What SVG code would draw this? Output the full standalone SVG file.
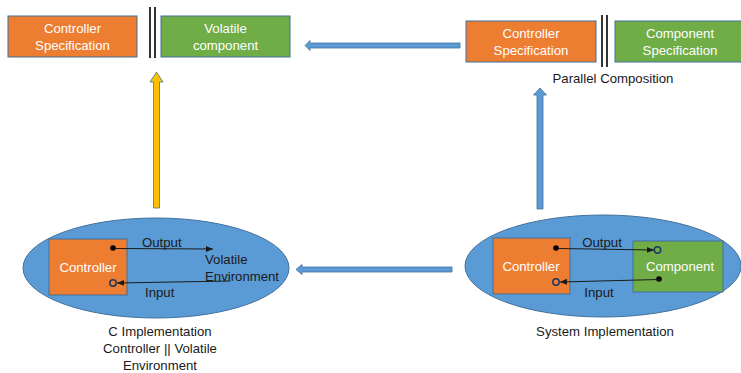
<svg xmlns="http://www.w3.org/2000/svg" width="741" height="373" viewBox="0 0 741 373">
<defs>
<style>
.t{font-family:"Liberation Sans",Arial,sans-serif;font-size:13.2px;}
.w{fill:#ffffff;}
.k{fill:#1a1a1a;}
.or{fill:#ED7D31;stroke:#41719C;stroke-width:1;}
.gr{fill:#70AD47;stroke:#41719C;stroke-width:1;}
.el{fill:#5B9BD5;stroke:#41719C;stroke-width:1;}
.bar{stroke:#000;stroke-width:1.6;}
.ar{fill:#5B9BD5;stroke:#41719C;stroke-width:0.8;}
.ay{fill:#FFC000;stroke:#41719C;stroke-width:0.8;}
.ln{stroke:#1a1a1a;stroke-width:1;fill:none;}
.dot{fill:#000;}
.ring{fill:none;stroke:#1F3864;stroke-width:1.5;}
</style>
<marker id="ah" markerWidth="8" markerHeight="8" refX="7" refY="4" orient="auto" markerUnits="userSpaceOnUse">
<path d="M0,1 L7,4 L0,7 Z" fill="#1a1a1a"/>
</marker>
</defs>

<g id="top-left-controller-spec">
<rect class="or" x="8" y="16" width="129" height="41"/>
<text class="t w" x="72.5" y="33" text-anchor="middle">Controller</text>
<text class="t w" x="72.5" y="50" text-anchor="middle">Specification</text>
</g>
<g id="top-left-parallel">
<line class="bar" x1="150" y1="7" x2="150" y2="58"/>
<line class="bar" x1="155" y1="7" x2="155" y2="58"/>
</g>
<g id="volatile-component">
<rect class="gr" x="161" y="16" width="129" height="41"/>
<text class="t w" x="225.5" y="33" text-anchor="middle">Volatile</text>
<text class="t w" x="225.5" y="50" text-anchor="middle">component</text>
</g>

<g id="top-right-controller-spec">
<rect class="or" x="466" y="21" width="130" height="41"/>
<text class="t w" x="531" y="38" text-anchor="middle">Controller</text>
<text class="t w" x="531" y="55" text-anchor="middle">Specification</text>
</g>
<g id="top-right-parallel">
<line class="bar" x1="602" y1="15" x2="602" y2="67"/>
<line class="bar" x1="607" y1="15" x2="607" y2="67"/>
</g>
<g id="component-spec">
<rect class="gr" x="615" y="21" width="130" height="41"/>
<text class="t w" x="680" y="38" text-anchor="middle">Component</text>
<text class="t w" x="680" y="55" text-anchor="middle">Specification</text>
</g>
<g id="parallel-composition-label">
<text class="t k" x="613" y="83" text-anchor="middle">Parallel Composition</text>
</g>

<g id="c-implementation">
<ellipse class="el" cx="156" cy="268" rx="133" ry="50"/>
<rect class="or" x="49" y="239" width="78" height="56"/>
<text class="t w" x="88" y="272" text-anchor="middle">Controller</text>
<text class="t k" x="142" y="247">Output</text>
<text class="t k" x="205" y="264">Volatile</text>
<text class="t k" x="205" y="281">Environment</text>
<text class="t k" x="145" y="297">Input</text>
<circle class="dot" cx="113" cy="248" r="2.8"/>
<circle class="ring" cx="113" cy="283" r="3.2"/>
<text class="t k" x="160" y="336" text-anchor="middle">C Implementation</text>
<text class="t k" x="160" y="353" text-anchor="middle">Controller || Volatile</text>
<text class="t k" x="160" y="370" text-anchor="middle">Environment</text>
</g>

<g id="system-implementation">
<ellipse class="el" cx="603" cy="266" rx="138" ry="51"/>
<rect class="or" x="493" y="238" width="77" height="56"/>
<text class="t w" x="531" y="271" text-anchor="middle">Controller</text>
<rect class="gr" x="633" y="241" width="90" height="51"/>
<text class="t w" x="680" y="271" text-anchor="middle">Component</text>
<text class="t k" x="602" y="247" text-anchor="middle">Output</text>
<text class="t k" x="599" y="297" text-anchor="middle">Input</text>
<circle class="dot" cx="556" cy="248" r="2.8"/>
<circle class="ring" cx="657.5" cy="250" r="3.2"/>
<circle class="dot" cx="659" cy="279" r="2.8"/>
<circle class="ring" cx="556" cy="282" r="3.2"/>
<text class="t k" x="605" y="336" text-anchor="middle">System Implementation</text>
</g>

<g id="connectors">
<line class="ln" x1="116" y1="248.5" x2="213" y2="249" marker-end="url(#ah)"/>
<line class="ln" x1="230" y1="281" x2="117" y2="283" marker-end="url(#ah)"/>
<line class="ln" x1="559" y1="248.5" x2="654" y2="250" marker-end="url(#ah)"/>
<line class="ln" x1="659" y1="279.5" x2="560" y2="282" marker-end="url(#ah)"/>
<path class="ar" d="M460,43 L310,43 L310,40.5 L305,45.5 L310,50.5 L310,48 L460,48 Z"/>
<path class="ay" d="M153.5,208 L153.5,82 L150,82 L156.5,72 L163,82 L159.5,82 L159.5,208 Z"/>
<path class="ar" d="M537,209 L537,95 L533.5,95 L540,88 L546.5,95 L543,95 L543,209 Z"/>
<path class="ar" d="M452,267 L302,267 L302,264.5 L296,269.5 L302,274.5 L302,272 L452,272 Z"/>
</g>
</svg>
